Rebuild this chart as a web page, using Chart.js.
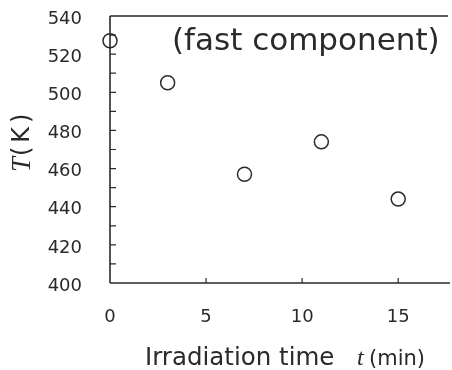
<!DOCTYPE html>
<html>
<head>
<meta charset="utf-8">
<script src="https://cdn.jsdelivr.net/npm/chart.js@4"></script>
<style>
  html, body { margin: 0; padding: 0; background: #fff; overflow: hidden; }
  canvas { display: block; }
</style>
</head>
<body>
<canvas id="myChart" width="452" height="370"></canvas>
<script>
  // irradiation time (min) and temperature T (K), fast component
  const times = [0, 3, 7, 11, 15];
  const temps = [527, 505, 457, 474, 444];
  const xTicks = [0, 5, 10, 15];
  const yTicks = [400, 420, 440, 460, 480, 500, 520, 540];
  const panelLabel = '(fast component)';

  const ink = '#2a2a2a';
  const tickFont = { family: 'DejaVu Sans', size: 18 };

  // axes frame, inward ticks and the texts
  const framePlugin = {
    id: 'frame',
    afterDraw(chart) {
      const c = chart.ctx;
      const a = chart.chartArea;
      const xs = chart.scales.x, ys = chart.scales.y;
      c.save();
      c.strokeStyle = ink;
      c.lineWidth = 1.6;
      c.beginPath();
      c.moveTo(a.left, a.top); c.lineTo(a.right - 4, a.top);
      c.moveTo(a.left, a.top); c.lineTo(a.left, a.bottom);
      c.moveTo(a.left, a.bottom); c.lineTo(a.right - 2, a.bottom);
      c.stroke();
      c.lineWidth = 1.2;
      c.beginPath();
      for (let v = 410; v < 540; v += 10) {
        const py = ys.getPixelForValue(v);
        c.moveTo(a.left, py); c.lineTo(a.left + 6, py);
      }
      for (const v of xTicks.slice(1)) {
        const px = xs.getPixelForValue(v);
        c.moveTo(px, a.bottom); c.lineTo(px, a.bottom - 5);
      }
      c.stroke();

      c.fillStyle = ink;
      c.textBaseline = 'alphabetic';
      c.textAlign = 'left';
      c.font = '31px "DejaVu Sans"';
      c.fillText(panelLabel, 172, 50);

      // x title
      c.font = '24.5px "DejaVu Sans"';
      c.fillText('Irradiation time', 145, 365);
      c.font = 'italic 24px "Liberation Serif"';
      c.fillText('t', 357, 365);
      c.font = '21px "DejaVu Sans"';
      c.fillText('(min)', 369, 365);

      // y title
      c.translate(22, 140);
      c.rotate(-Math.PI / 2);
      c.textBaseline = 'middle';
      c.font = 'italic 27px "Liberation Serif"';
      c.fillText('T', -32, 1);
      c.font = '24px "DejaVu Sans"';
      c.letterSpacing = '4px';
      c.fillText('(K)', -16, 1);
      c.restore();
    }
  };

  const ctx = document.getElementById('myChart').getContext('2d');
  const myChart = new Chart(ctx, {
    type: 'scatter',
    data: {
      datasets: [{
        data: times.map((t, i) => ({ x: t, y: temps[i] })),
        pointStyle: 'circle',
        pointRadius: 7,
        pointHoverRadius: 7,
        pointBorderWidth: 1.5,
        borderColor: ink,
        backgroundColor: 'rgba(0,0,0,0)',
        clip: false
      }]
    },
    options: {
      responsive: false,
      animation: false,
      layout: { autoPadding: false, padding: { top: 16, right: 0, left: 0, bottom: 0 } },
      plugins: { legend: { display: false }, tooltip: { enabled: false } },
      scales: {
        x: {
          type: 'linear',
          min: 0,
          max: 17.8,
          afterBuildTicks: s => { s.ticks = xTicks.map(v => ({ value: v })); },
          afterFit: s => { s.height = 87; s.paddingLeft = 0; s.paddingRight = 0; },
          grid: { display: false, drawTicks: false },
          border: { display: false },
          ticks: { color: ink, font: tickFont, padding: 24, maxRotation: 0 }
        },
        y: {
          type: 'linear',
          min: 400,
          max: 540,
          afterBuildTicks: s => { s.ticks = yTicks.map(v => ({ value: v })); },
          afterFit: s => { s.width = 110; s.paddingTop = 0; s.paddingBottom = 0; },
          grid: { display: false, drawTicks: false },
          border: { display: false },
          ticks: { color: ink, font: tickFont, padding: 28, labelOffset: 3 }
        }
      }
    },
    plugins: [framePlugin]
  });
</script>
</body>
</html>
